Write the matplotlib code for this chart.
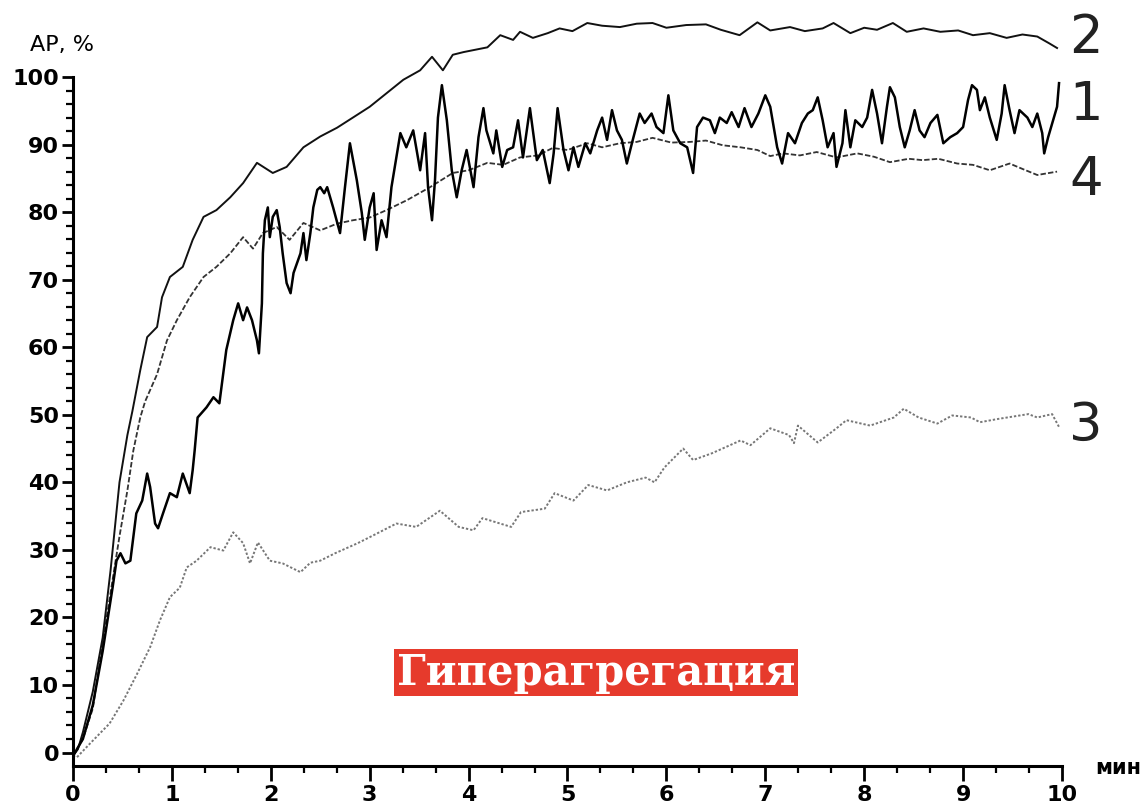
import matplotlib
matplotlib.use('Agg')
import matplotlib.pyplot as plt
from matplotlib.ticker import MultipleLocator, FixedLocator

# curve 1 - noisy solid trace
x1 = [0.0, 0.1, 0.2, 0.3, 0.4, 0.44, 0.48, 0.53, 0.58, 0.64, 0.7, 0.75, 0.78, 0.83, 0.86, 0.91,
      0.98, 1.05, 1.11, 1.18, 1.21, 1.23, 1.26, 1.35, 1.42, 1.48, 1.55, 1.62, 1.67, 1.72, 1.76,
      1.81, 1.86, 1.88, 1.91, 1.92, 1.94, 1.97, 1.99, 2.02, 2.06, 2.09, 2.12, 2.16, 2.2, 2.23,
      2.3, 2.33, 2.36, 2.4, 2.43, 2.47, 2.5, 2.54, 2.57, 2.63, 2.7, 2.75, 2.8, 2.87, 2.92, 2.95,
      3.0, 3.04, 3.07, 3.12, 3.17, 3.22, 3.31, 3.37, 3.44, 3.51, 3.56, 3.59, 3.63, 3.66, 3.69,
      3.73, 3.78, 3.83, 3.88, 3.93, 3.98, 4.05, 4.1, 4.15, 4.18, 4.25, 4.28, 4.34, 4.39, 4.45,
      4.5, 4.55, 4.62, 4.69, 4.75, 4.82, 4.86, 4.9, 4.96, 5.01, 5.06, 5.11, 5.18, 5.23, 5.3,
      5.35, 5.4, 5.45, 5.5, 5.55, 5.6, 5.66, 5.73, 5.78, 5.85, 5.9, 5.97, 6.02, 6.07, 6.14,
      6.21, 6.27, 6.31, 6.37, 6.44, 6.49, 6.54, 6.61, 6.66, 6.73, 6.79, 6.86, 6.93, 7.0, 7.05,
      7.12, 7.17, 7.23, 7.3, 7.37, 7.43, 7.48, 7.53, 7.58, 7.63, 7.69, 7.72, 7.78, 7.81, 7.86,
      7.91, 7.98, 8.03, 8.08, 8.13, 8.18, 8.23, 8.26, 8.31, 8.36, 8.41, 8.46, 8.51, 8.56, 8.61,
      8.67, 8.74, 8.8, 8.87, 8.94, 9.0, 9.05, 9.09, 9.14, 9.17, 9.22, 9.27, 9.34, 9.39, 9.42,
      9.47, 9.52, 9.57, 9.65, 9.7, 9.75, 9.8, 9.82, 9.86, 9.91, 9.95, 9.97]
y1 = [-0.5, 2, 7, 15, 24.4, 28.4, 29.5, 28, 28.4, 35.4, 37.3, 41.3, 39.3, 33.9, 33.2, 35.4,
      38.4, 37.8, 41.3, 38.4, 41.8, 44.7, 49.6, 51.1, 52.6, 51.7, 59.6, 64, 66.5, 64, 65.9,
      64, 61, 59.1, 66.5, 73.9, 78.8, 80.7, 76.3, 79.3, 80.3, 77.8, 73.9, 69.5, 68, 71,
      73.9, 76.9, 72.9, 76.9, 80.7, 83.3, 83.7, 82.8, 83.7, 80.7, 76.9, 83.7, 90.2, 84.7, 79.9, 75.9,
      80.7, 82.8, 74.4, 78.8, 76.3, 83.7, 91.7, 89.6, 92.1, 86.2, 91.7, 83.7, 78.8, 84.7, 94,
      98.8, 93.6, 86.2, 82.2, 86.2, 89.2, 83.7, 91.1, 95.4, 92.1, 88.7, 92.1, 86.7, 89.2, 89.6,
      93.6, 88.1, 95.4, 87.7, 89.2, 84.3, 88.7, 95.4, 89.2, 86.2, 89.6, 86.7, 90.2, 88.7, 92.1,
      94, 90.7, 95.1, 92.1, 90.7, 87.2, 90.7, 94.6, 93.2, 94.6, 92.6, 91.7, 97.3, 92.1, 90.2,
      89.6, 85.8, 92.6, 94, 93.6, 91.7, 94, 93.2, 94.8, 92.6, 95.4, 92.6, 94.6, 97.3, 95.6,
      89.6, 87.2, 91.7, 90.2, 93.2, 94.6, 95.1, 97, 93.6, 89.6, 91.7, 86.7, 90.2, 95.1, 89.6,
      93.6, 92.6, 94, 98.1, 94.6, 90.2, 95.6, 98.5, 97, 92.6, 89.6, 92.1, 95.1, 92.1, 91.1,
      93.2, 94.4, 90.2, 91.1, 91.7, 92.6, 96.6, 98.8, 98.1, 95.1, 97, 94, 90.7, 94.6, 98.8,
      95.1, 91.7, 95.1, 94, 92.6, 94.6, 91.7, 88.7, 91.1, 93.6, 95.6, 99.1]

# curve 2 - upper trace
x2 = [0.0, 0.05, 0.1, 0.2, 0.3, 0.38, 0.47, 0.55, 0.6, 0.68, 0.75, 0.85, 0.9, 0.98, 1.11, 1.21,
      1.32, 1.45, 1.59, 1.72, 1.86, 2.02, 2.16, 2.33, 2.5, 2.67, 2.83, 3.0, 3.17, 3.34, 3.51,
      3.63, 3.74, 3.84, 3.95, 4.19, 4.32, 4.45, 4.52, 4.65, 4.8, 4.92, 5.05, 5.2, 5.35, 5.53,
      5.7, 5.86, 6.0, 6.2, 6.4, 6.55, 6.74, 6.92, 7.05, 7.25, 7.4, 7.58, 7.69, 7.86, 8.0, 8.13,
      8.29, 8.43, 8.6, 8.77, 8.95, 9.1, 9.27, 9.44, 9.6, 9.75, 9.87, 9.95]
y2 = [-0.5, 0.5, 3, 9, 17, 27, 40, 47, 50.5, 56.6, 61.5, 63, 67.4, 70.4, 71.9, 75.9,
      79.3, 80.3, 82.2, 84.3, 87.3, 85.8, 86.7, 89.6, 91.2, 92.5, 94, 95.6, 97.6, 99.6, 101,
      103, 101, 103.3, 103.7, 104.4, 106.2, 105.5, 106.7, 105.8, 106.5, 107.2, 106.8, 108, 107.6, 107.4,
      107.9, 108, 107.3, 107.7, 107.8, 107, 106.2, 108.1, 106.9, 107.4, 106.8, 107.2, 108, 106.5, 107.3, 107,
      108, 106.7, 107.2, 106.7, 106.9, 106.2, 106.5, 105.8, 106.3, 106, 105, 104.3]

# curve 3 - lower dotted trace
x3 = [0.0, 0.04, 0.17, 0.37, 0.51, 0.65, 0.78, 0.88, 0.98, 1.08, 1.15, 1.25, 1.39, 1.52, 1.62,
      1.72, 1.79, 1.87, 1.99, 2.12, 2.3, 2.4, 2.5, 2.65, 2.88, 3.07, 3.27, 3.47, 3.71, 3.9, 4.05,
      4.14, 4.43, 4.53, 4.77, 4.87, 5.06, 5.21, 5.4, 5.6, 5.79, 5.88, 5.98, 6.17, 6.27, 6.46,
      6.75, 6.85, 7.05, 7.24, 7.29, 7.33, 7.53, 7.72, 7.82, 8.06, 8.3, 8.4, 8.55, 8.74, 8.89,
      9.08, 9.17, 9.36, 9.66, 9.75, 9.9, 9.97]
y3 = [-0.5, -0.7, 1.3, 4.3, 7.7, 11.7, 15.6, 19.6, 23, 24.4, 27.4, 28.4, 30.4, 29.9, 32.6,
      31, 28, 31.1, 28.4, 28, 26.7, 28.1, 28.4, 29.5, 31, 32.4, 33.9, 33.4, 35.8, 33.4, 32.9,
      34.7, 33.4, 35.6, 36.1, 38.4, 37.3, 39.6, 38.8, 40, 40.7, 40, 42.2, 45, 43.3, 44.3,
      46.2, 45.5, 48, 47, 45.8, 48.4, 45.9, 48, 49.2, 48.4, 49.6, 50.9, 49.6, 48.7, 49.9,
      49.6, 48.9, 49.4, 50.1, 49.6, 50.1, 48.2]

# curve 4 - dashed trace
x4 = [0.0, 0.1, 0.2, 0.34, 0.47, 0.55, 0.61, 0.68, 0.73, 0.85, 0.95, 1.05, 1.18, 1.32, 1.45,
      1.59, 1.72, 1.82, 1.92, 2.06, 2.19, 2.33, 2.5, 2.67, 2.83, 3.0, 3.17, 3.38, 3.61, 3.84,
      4.0, 4.19, 4.35, 4.52, 4.7, 4.85, 5.0, 5.2, 5.35, 5.53, 5.7, 5.86, 6.05, 6.24, 6.4, 6.57,
      6.75, 6.92, 7.05, 7.18, 7.35, 7.52, 7.72, 7.93, 8.1, 8.26, 8.45, 8.59, 8.75, 8.94, 9.1,
      9.27, 9.47, 9.6, 9.75, 9.95]
y4 = [-0.5, 2, 6.5, 20, 32, 38.8, 44.7, 49.6, 52, 56, 61, 64, 67.4, 70.4, 71.9,
      73.9, 76.3, 74.6, 76.9, 77.8, 75.9, 78.4, 77.3, 78.3, 78.8, 79.2, 80.3, 81.8, 83.7, 85.8,
      86.2, 87.3, 87, 88.1, 88.4, 89.5, 89.2, 90.2, 89.6, 90.2, 90.4, 91, 90.3, 90.4, 90.6, 89.9,
      89.6, 89.2, 88.3, 88.7, 88.4, 88.9, 88.1, 88.7, 88.2, 87.4, 87.9, 87.7, 87.9, 87.2, 87,
      86.2, 87.2, 86.4, 85.5, 86]

curve_names = ['1', '2', '3', '4']
label_y = [95.9, 105.8, 48.4, 84.7]

fig = plt.figure(figsize=(11.46, 8.06), dpi=100)
ax = fig.add_axes([0.0637, 0.0496, 0.863, 0.9386])

ax.plot(x3, y3, color='#777777', lw=1.4, ls=(0, (1.2, 1.0)))
ax.plot(x4, y4, color='#333333', lw=1.3, ls=(0, (3, 1.2)))
ax.plot(x2, y2, color='#111111', lw=1.4)
ax.plot(x1, y1, color='black', lw=1.8)

ax.set_xlim(0, 10)
ax.set_ylim(-2, 110)

for s in ['top', 'right']:
    ax.spines[s].set_visible(False)
ax.spines['left'].set_bounds(-2, 100)
ax.spines['left'].set_linewidth(2.2)
ax.spines['bottom'].set_linewidth(2.2)

ax.set_yticks(range(0, 101, 10))
ax.yaxis.set_minor_locator(FixedLocator([v for v in range(2, 100, 2) if v % 10]))
ax.set_xticks(range(0, 11))
ax.xaxis.set_minor_locator(MultipleLocator(1 / 3))
ax.tick_params(axis='y', which='major', length=8, width=2, pad=2, labelsize=16)
ax.tick_params(axis='y', which='minor', length=5, width=1.6)
ax.tick_params(axis='x', which='major', length=11, width=2, pad=3, labelsize=16)
ax.tick_params(axis='x', which='minor', length=5, width=1.6)
for lab in ax.get_xticklabels() + ax.get_yticklabels():
    lab.set_fontweight('bold')

for name, ly in zip(curve_names, label_y):
    ax.text(10.07, ly, name, fontsize=38, ha='left', va='center', clip_on=False,
            color='#222222')

fig.text(30 / 1146, 1 - 45 / 806, 'АР, %', fontsize=16, va='center', ha='left')
fig.text(1095 / 1146, 1 - 768 / 806, 'мин', fontsize=15, fontweight='bold',
         va='center', ha='left')

ax.text(5.29, 11.8, 'Гиперагрегация', family='DejaVu Serif', fontweight='bold',
        fontsize=30, color='white', ha='center', va='center',
        bbox=dict(boxstyle='square,pad=0.06', fc='#e63a2c', ec='none'))

plt.savefig('out.png', dpi=100)
